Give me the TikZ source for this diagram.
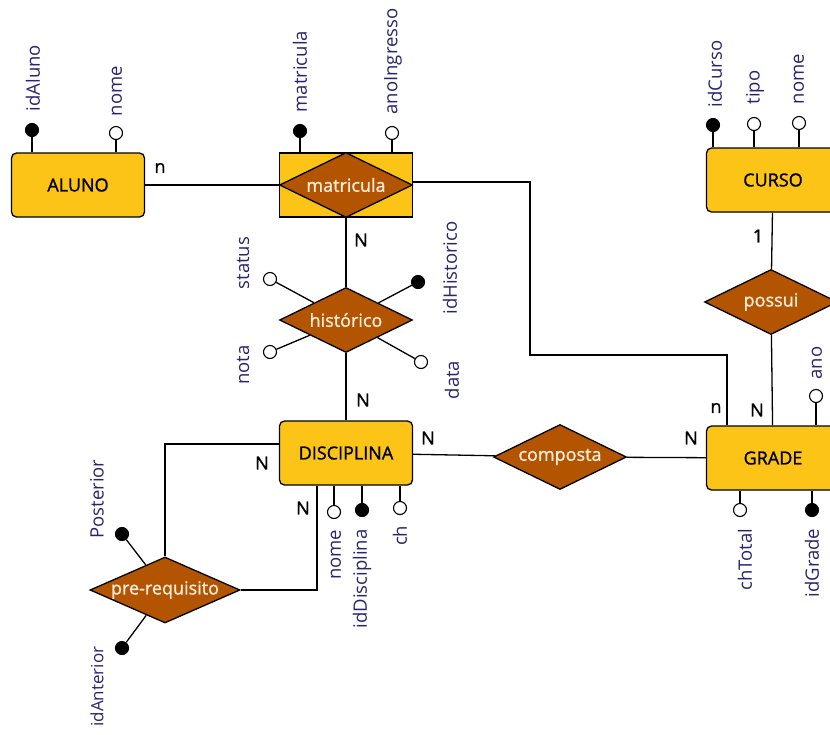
\documentclass[tikz,border=0pt]{standalone}
\usepackage{fontspec}
\setmainfont{Open Sans}
\newfontfamily\semib{Open Sans}[FakeBold=1.2]
\usetikzlibrary{positioning}
\usetikzlibrary{shapes.geometric}
\definecolor{entyellow}{RGB}{252,196,22}
\definecolor{relbrown}{RGB}{179,85,0}
\definecolor{attblue}{RGB}{42,36,112}
\definecolor{reltext}{RGB}{250,236,218}
\tikzstyle{ent}=[draw,rectangle,rounded corners=5pt,fill=entyellow,minimum width=133pt,minimum height=64pt,inner sep=0pt,font=\semib\fontsize{18}{20}\selectfont]
\tikzstyle{rel}=[draw,diamond,fill=relbrown,shape aspect=2,minimum width=133pt,minimum height=65pt,inner sep=0pt,text=reltext,font=\semib\fontsize{18}{20}\selectfont]
\tikzstyle{att}=[draw,circle,fill=white,minimum size=13pt,inner sep=0pt,line width=1.1pt]
\tikzstyle{key}=[att,fill=black]
\tikzstyle{lbl}=[rotate=90,inner sep=1pt,text=attblue,font=\fontsize{18.5}{20}\selectfont]
\tikzstyle{card}=[inner sep=1pt,font=\semib\fontsize{18}{20}\selectfont]

\begin{document}
\begin{tikzpicture}[x=1pt,y=-1pt,line width=1.3pt]
      \useasboundingbox (0,0) rectangle (830,734);
      \clip (0,0) rectangle (830,734);
      % entidades e relacionamentos
      \node [ent] (aluno) at (78,185) {ALUNO};
      \node [ent,sharp corners] (matrbox) at (346,185) {};
      \node [rel] (matricula) at (346,185) {matricula};
      \node [ent] (curso) at (773,180) {CURSO};
      \node [ent] (disciplina) at (346,453) {DISCIPLINA};
      \node [ent] (grade) at (773,458) {GRADE};
      \node [rel] (historico) at (346,320) {histórico};
      \node [rel] (composta) at (560,457) {composta};
      \node [rel] (possui) at (771,302) {possui};
      \node [rel,minimum width=150pt,minimum height=66pt] (prereq) at (165,590) {\makebox[0pt]{pre-requisito}};
      % ligacoes
      \draw (aluno) -- (matrbox);
      \draw ([yshift=3pt]matrbox.east) -| (530,355) -| ([xshift=-46pt]grade.north);
      \draw (matrbox) -- (historico);
      \draw (historico) -- (disciplina);
      \draw (disciplina) -- (composta);
      \draw (composta) -- (grade);
      \draw (curso) -- (possui);
      \draw (possui) -- (grade);
      \draw ([yshift=9pt]disciplina.west) -| (prereq.north);
      \draw (prereq.east) -| ([xshift=-29pt]disciplina.south);
      % cardinalidades
      \node [card] (c1) at (160,168) {n};
      \node [card] (c2) at (361,240) {N};
      \node [card] (c3) at (363,400) {N};
      \node [card] (c4) at (428,438) {N};
      \node [card] (c5) at (691,438) {N};
      \node [card] (c6) at (758,236) {1};
      \node [card] (c7) at (757,410) {N};
      \node [card] (c8) at (716,408) {n};
      \node [card] (c9) at (262,463) {N};
      \node [card] (c10) at (303,508) {N};
      % atributos ALUNO
      \node [key] (idAluno) at (32,130) {};
      \node [att] (nomeAluno) at (116,133) {};
      \draw (idAluno) -- (idAluno |- aluno.north);
      \draw (nomeAluno) -- (nomeAluno |- aluno.north);
      \node [lbl,anchor=west] at (33,113) {idAluno};
      \node [lbl,anchor=west] at (117,118) {nome};
      % atributos matricula
      \node [key] (matr) at (300,131) {};
      \node [att] (anoIng) at (392,133) {};
      \draw (matr) -- (matr |- matrbox.north);
      \draw (anoIng) -- (anoIng |- matrbox.north);
      \node [lbl,anchor=west] at (300,114) {matricula};
      \node [lbl,anchor=west] at (393,116) {anoIngresso};
      % atributos CURSO
      \node [key] (idCurso) at (713,125) {};
      \node [att] (tipo) at (754,124) {};
      \node [att] (nomeCurso) at (799,123) {};
      \draw (idCurso) -- (idCurso |- curso.north);
      \draw (tipo) -- (tipo |- curso.north);
      \draw (nomeCurso) -- (nomeCurso |- curso.north);
      \node [lbl,anchor=west] at (715,109) {idCurso};
      \node [lbl,anchor=west] at (755,106) {tipo};
      \node [lbl,anchor=west] at (799,106) {nome};
      % atributos GRADE
      \node [att] (ano) at (816,396) {};
      \node [att] (chTotal) at (740,510) {};
      \node [key] (idGrade) at (812,510) {};
      \draw (ano) -- (ano |- grade.north);
      \draw (chTotal) -- (chTotal |- grade.south);
      \draw (idGrade) -- (idGrade |- grade.south);
      \node [lbl,anchor=west] at (817,381) {ano};
      \node [lbl,anchor=east] at (745,527) {chTotal};
      \node [lbl,anchor=east] at (812,527) {idGrade};
      % atributos DISCIPLINA
      \node [att] (nomeDisc) at (334,512) {};
      \node [key] (idDisc) at (362,510) {};
      \node [att] (ch) at (400,508) {};
      \draw (nomeDisc) -- (nomeDisc |- disciplina.south);
      \draw (idDisc) -- (idDisc |- disciplina.south);
      \draw (ch) -- (ch |- disciplina.south);
      \node [lbl,anchor=east] at (336,528) {nome};
      \node [lbl,anchor=east] at (362,528) {idDisciplina};
      \node [lbl,anchor=east] at (400,524) {ch};
      % atributos historico
      \node [att] (status) at (270,279) {};
      \node [att] (nota) at (270,352) {};
      \node [key] (idHist) at (418,282) {};
      \node [att] (data) at (421,362) {};
      \draw (status) -- (historico);
      \draw (nota) -- (historico);
      \draw (idHist) -- (historico);
      \draw (data) -- (historico);
      \node [lbl] at (243,263) {status};
      \node [lbl] at (243,365) {nota};
      \node [lbl] at (450,268) {idHistorico};
      \node [lbl] at (452,380) {data};
      % atributos pre-requisito
      \node [key] (posterior) at (122,534) {};
      \node [key] (anterior) at (122,648) {};
      \draw (posterior) -- (prereq);
      \draw (anterior) -- (prereq);
      \node [lbl] at (97,499) {Posterior};
      \node [lbl,anchor=east,font=\fontsize{17}{20}\selectfont] at (97,645) {idAnterior};
    \end{tikzpicture}
\end{document}
